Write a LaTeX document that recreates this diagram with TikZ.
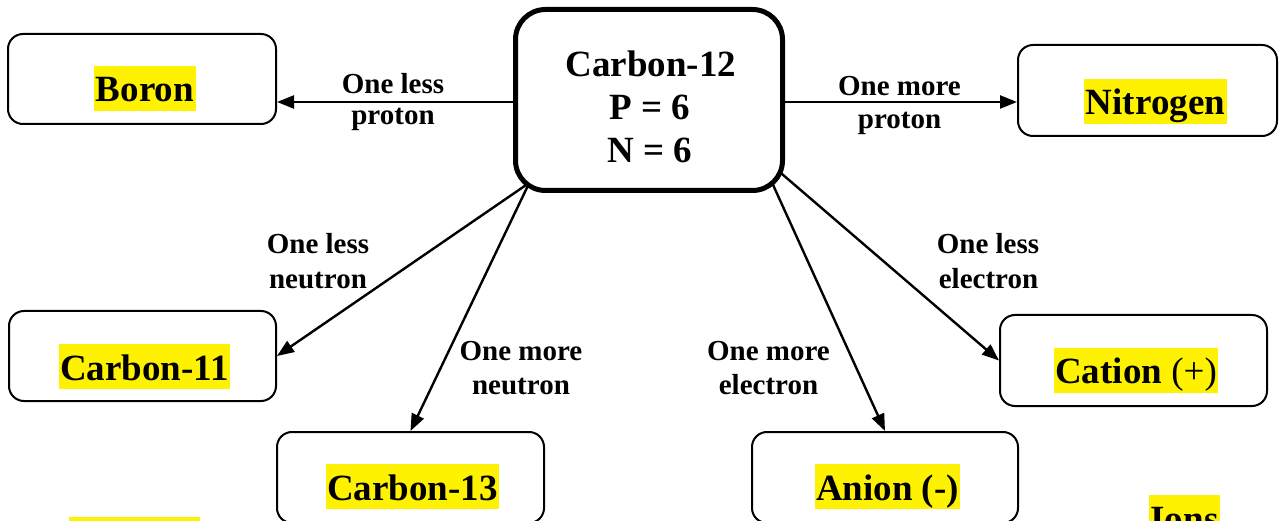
\documentclass[tikz,border=0pt]{standalone}
\usepackage{fontspec}
\setmainfont{Liberation Serif}
\usetikzlibrary{arrows.meta,calc,backgrounds}
\tikzset{
  box/.style={draw=black, line width=2pt, rounded corners=15pt, fill=white, inner sep=0pt},
  bigbox/.style={draw=black, line width=5pt, rounded corners=30pt, fill=white, inner sep=0pt},
  hl/.style={fill=yellow, inner xsep=1.5pt, inner ysep=0pt, text height=36pt, text depth=9pt, font=\fontsize{37}{43}\selectfont\bfseries},
  ctext/.style={anchor=base, inner sep=0pt, font=\fontsize{37}{43}\selectfont\bfseries},
  elab/.style={anchor=base, inner sep=0pt, font=\fontsize{29}{33}\selectfont\bfseries},
  arr/.style={line width=2.4pt, -{Triangle[length=17pt,width=13pt]}},
}
\begin{document}
\begin{tikzpicture}[x=1pt,y=-1pt]
\clip (0,0) rectangle (1280,521);
% boxes
\node[bigbox, minimum width=267pt, minimum height=181pt] (c12) at (649,100) {};
\node[box, minimum width=268pt, minimum height=90pt] (boron) at (142,79) {};
\node[box, minimum width=259pt, minimum height=91pt] (nitro) at (1147.5,90.5) {};
\node[box, minimum width=267pt, minimum height=90pt] (c11) at (142.5,356) {};
\node[box, minimum width=267pt, minimum height=91pt] (cation) at (1133.5,360.5) {};
\node[box, minimum width=267pt, minimum height=91pt] (c13) at (410.5,477.5) {};
\node[box, minimum width=266pt, minimum height=91pt] (anion) at (885,477.5) {};
% central text
\node[ctext] (c12a) at (651,77) {Carbon-12};
\node[ctext] (c12b) at (650,120) {P = 6};
\node[ctext] (c12c) at (650,163) {N = 6};
% highlighted labels
\node[hl] (tboron) at (145,88.5) {Boron};
\node[hl] (tnitro) at (1155.5,101.5) {Nitrogen};
\node[hl] (tc11) at (144.5,366.5) {Carbon-11};
\node[hl] (tcation) at (1136,370.5) {Cation {\mdseries(+)}};
\node[hl] (tc13) at (412.5,486.5) {Carbon-13};
\node[hl] (tanion) at (887.5,486.5) {Anion (-)};
\node[hl] (tions) at (1184.5,517.5) {Ions};
\node[fill=yellow, inner sep=0pt, minimum width=131pt, minimum height=45pt] (tiso) at (134.5,539.5) {};
% connectors
\begin{scope}[on background layer]
\coordinate (bs) at ($(c12.west)+(0,2)$);
\coordinate (ns) at ($(c12.east)+(0,2)$);
\draw[arr] (bs) -- (bs -| boron.east);
\draw[arr] (ns) -- (ns -| nitro.west);
\draw[arr] ($(c12.south west)+(16,-10)$) -- (c11.east);
\draw[arr] ($(c12.south west)+(15.5,-8.5)$) -- (c13.north);
\draw[arr] ($(c12.south east)+(-13.5,-11.5)$) -- (anion.north);
\draw[arr] ($(c12.south east)+(-6.5,-22)$) -- (cation.west);
\end{scope}
% connector labels
\node[elab] (l1a) at (393,94) {One less};
\node[elab] (l1b) at (393,125) {proton};
\node[elab] (l2a) at (899.5,96) {One more};
\node[elab] (l2b) at (899.5,129) {proton};
\node[elab] (l3a) at (318,254) {One less};
\node[elab] (l3b) at (318,289) {neutron};
\node[elab] (l4a) at (521,360) {One more};
\node[elab] (l4b) at (521,394) {neutron};
\node[elab] (l5a) at (768.5,360) {One more};
\node[elab] (l5b) at (768.5,394) {electron};
\node[elab] (l6a) at (988,254) {One less};
\node[elab] (l6b) at (988.5,289) {electron};
\end{tikzpicture}
\end{document}
